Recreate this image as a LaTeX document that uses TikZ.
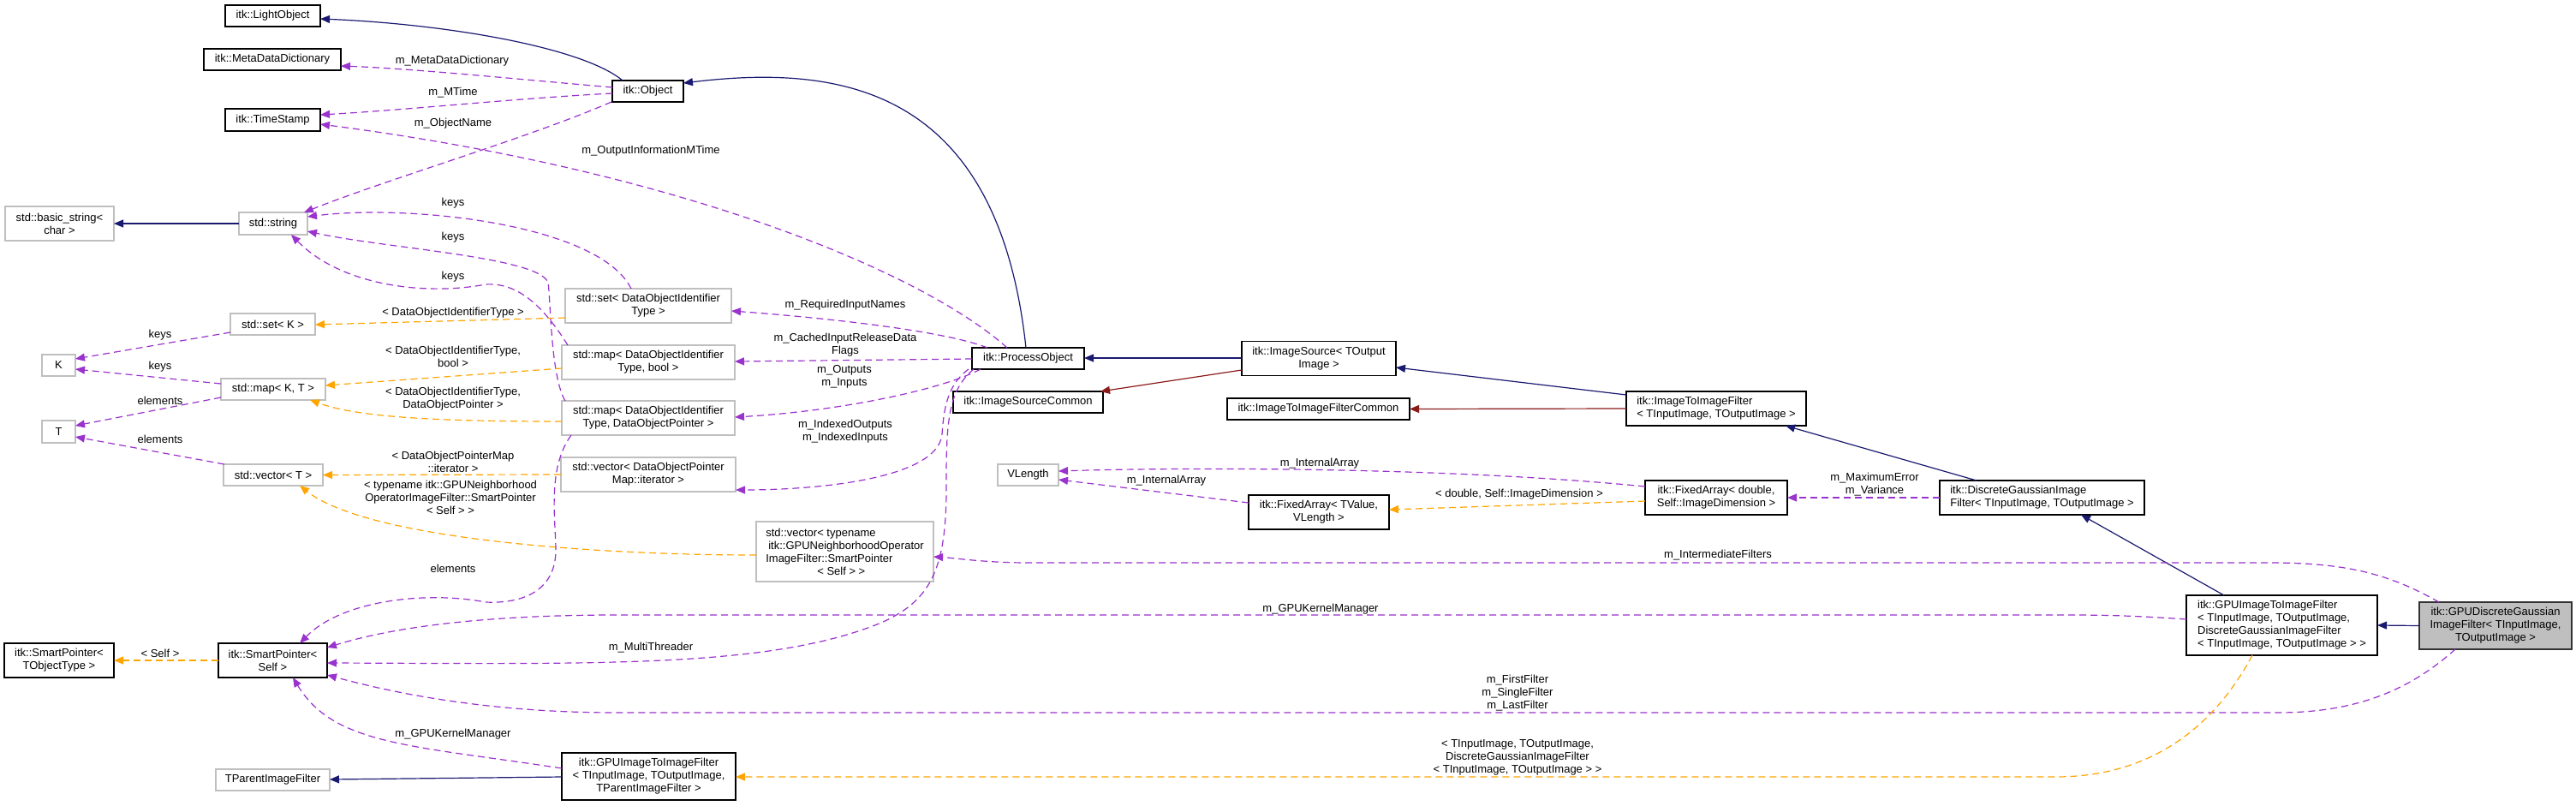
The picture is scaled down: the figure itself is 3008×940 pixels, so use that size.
\documentclass[tikz,border=0pt]{standalone}
\usepackage{fontspec}
\setmainfont{Liberation Sans}
\usetikzlibrary{arrows.meta}
\definecolor{cNavy}{HTML}{191970}
\definecolor{cPurple}{HTML}{9A32CD}
\definecolor{cOrange}{HTML}{FFA500}
\definecolor{cRed}{HTML}{8B1A1A}
\definecolor{cGray}{HTML}{BFBFBF}
\begin{document}
\begin{tikzpicture}[x=1pt,y=-1pt,
  every node/.style={font=\fontsize{13}{15}\selectfont, inner sep=0pt, outer sep=0pt},
  bx/.style={draw=black, line width=1.4pt, fill=white, align=center},
  gbx/.style={draw=cGray, line width=1.4pt, fill=white, align=center},
  fbx/.style={draw=black!80, line width=1.4pt, fill=cGray, align=center},
  lbl/.style={align=center},
  eInh/.style={draw=cNavy, line width=1.2pt, -{Triangle[length=11pt,width=9pt]}},
  eRed/.style={draw=cRed, line width=1.2pt, -{Triangle[length=11pt,width=9pt]}},
  eUse/.style={draw=cPurple, line width=1.2pt, dash pattern=on 8pt off 5pt, -{Triangle[length=11pt,width=9pt]}},
  eTmpl/.style={draw=cOrange, line width=1.2pt, dash pattern=on 8pt off 5pt, -{Triangle[length=11pt,width=9pt]}},
]
\fill[white] (0,0) rectangle (3008,940);
\useasboundingbox (0,0) rectangle (3008,940);

% ---------- nodes ----------
\node[bx, minimum width=111pt, minimum height=25pt] (lo) at (318.5,18.5) {itk::LightObject};
\node[bx, minimum width=160pt, minimum height=25pt] (mdd) at (318,69.5) {itk::MetaDataDictionary};
\node[bx, minimum width=111pt, minimum height=26pt] (ts) at (318.5,140) {itk::TimeStamp};
\node[bx, minimum width=83pt, minimum height=25pt] (obj) at (756.5,106.5) {itk::Object};
\node[gbx, minimum width=127pt, minimum height=40pt] (bstr) at (69.5,261) {std::basic\_string<\\char >};
\node[gbx, minimum width=80pt, minimum height=26pt] (str) at (319,261) {std::string};
\node[gbx, minimum width=99pt, minimum height=25pt] (setk) at (318.5,378.5) {std::set< K >};
\node[gbx, minimum width=39pt, minimum height=25pt] (K) at (68.5,426.5) {K};
\node[gbx, minimum width=122pt, minimum height=25pt] (mapkt) at (319,454.5) {std::map< K, T >};
\node[gbx, minimum width=39pt, minimum height=26pt] (T) at (68.5,504) {T};
\node[gbx, minimum width=116pt, minimum height=25pt] (vect) at (319,554.5) {std::vector< T >};
\node[gbx, minimum width=194pt, minimum height=40pt] (setdoi) at (757,357) {std::set< DataObjectIdentifier\\Type >};
\node[gbx, minimum width=202pt, minimum height=40pt] (mapbool) at (757,423) {std::map< DataObjectIdentifier\\Type, bool >};
\node[gbx, minimum width=202pt, minimum height=40pt] (mapptr) at (757,488) {std::map< DataObjectIdentifier\\Type, DataObjectPointer >};
\node[gbx, minimum width=204pt, minimum height=40pt] (vecit) at (757,554) {std::vector< DataObjectPointer\\Map::iterator >};
\node[gbx, minimum width=207pt, minimum height=70pt, align=left] (vecsp) at (986.5,644) {std::vector< typename\\\hspace*{3pt}itk::GPUNeighborhoodOperator\\ImageFilter::SmartPointer\\\hspace*{60pt}< Self > >};
\node[bx, minimum width=131pt, minimum height=25pt] (po) at (1200.5,418.5) {itk::ProcessObject};
\node[bx, minimum width=175pt, minimum height=25pt] (isc) at (1200.5,469.5) {itk::ImageSourceCommon};
\node[bx, minimum width=180pt, minimum height=40pt] (is) at (1540,418.5) {itk::ImageSource< TOutput\\Image >};
\node[bx, minimum width=213pt, minimum height=25pt] (itifc) at (1539.5,477.5) {itk::ImageToImageFilterCommon};
\node[bx, minimum width=210pt, minimum height=40pt, align=left] (itif) at (2004,477) {itk::ImageToImageFilter\\< TInputImage, TOutputImage >};
\node[gbx, minimum width=71pt, minimum height=25pt] (vl) at (1200.5,554.5) {VLength};
\node[bx, minimum width=164pt, minimum height=40pt] (fatv) at (1540,598) {itk::FixedArray< TValue,\\VLength >};
\node[bx, minimum width=166pt, minimum height=40pt] (fad) at (2004,581) {itk::FixedArray< double,\\Self::ImageDimension >};
\node[bx, minimum width=239pt, minimum height=40pt, align=left] (dg) at (2384.5,581) {itk::DiscreteGaussianImage\\Filter< TInputImage, TOutputImage >};
\node[bx, minimum width=223pt, minimum height=70pt, align=left] (gpum) at (2664.5,730) {itk::GPUImageToImageFilter\\< TInputImage, TOutputImage,\\DiscreteGaussianImageFilter\\< TInputImage, TOutputImage > >};
\node[fbx, minimum width=178pt, minimum height=55pt] (gray) at (2914,730.5) {itk::GPUDiscreteGaussian\\ImageFilter< TInputImage,\\TOutputImage >};
\node[bx, minimum width=128pt, minimum height=40pt] (spt) at (69,771) {itk::SmartPointer<\\TObjectType >};
\node[bx, minimum width=127pt, minimum height=40pt] (sps) at (318.5,771) {itk::SmartPointer<\\Self >};
\node[gbx, minimum width=133pt, minimum height=25pt] (tpif) at (318.5,910.5) {TParentImageFilter};
\node[bx, minimum width=203pt, minimum height=55pt] (gpup) at (757.5,906.5) {itk::GPUImageToImageFilter\\< TInputImage, TOutputImage,\\TParentImageFilter >};

% ---------- edges ----------
\draw[eInh] (727,0 |- obj.north) .. controls (680,55) and (520,28) .. (lo.east |- 0,22);
\draw[eInh] (1198,0 |- po.north) .. controls (1165,100) and (980,75) .. (obj.east |- 0,97);
\draw[eUse] (obj.west |- 0,102) .. controls (600,92) and (480,80) .. (mdd.east |- 0,77);
\draw[eUse] (obj.west |- 0,109) .. controls (600,115) and (480,128) .. (ts.east |- 0,134);
\draw[eUse] (1176,0 |- po.north) .. controls (1080,320) and (800,200) .. (ts.east |- 0,145);
\draw[eUse] (714,0 |- obj.south) .. controls (620,160) and (450,210) .. (355,0 |- str.north);
\draw[eInh] (str.west) -- (bstr.east);

\draw[eUse] (737,0 |- setdoi.north) .. controls (700,262) and (480,238) .. (str.east |- 0,253);
\draw[eUse] (660,0 |- mapptr.north) .. controls (643,440) and (643,350) .. (640,330) .. controls (630,300) and (450,290) .. (str.east |- 0,270);
\draw[eUse] (663,0 |- mapbool.north) .. controls (630,350) and (600,330) .. (567,332) .. controls (500,345) and (400,335) .. (340,0 |- str.south);

\draw[eUse] (setk.west |- 0,388) -- (K.east |- 0,419);
\draw[eUse] (mapkt.west |- 0,448) -- (K.east |- 0,431);
\draw[eUse] (mapkt.west |- 0,464) -- (T.east |- 0,497);
\draw[eUse] (262,0 |- vect.north) -- (T.east |- 0,510);

\draw[eTmpl] (setdoi.west |- 0,371) -- (setk.east |- 0,379);
\draw[eTmpl] (mapbool.west |- 0,430) -- (mapkt.east |- 0,450);
\draw[eTmpl] (mapptr.west |- 0,492) .. controls (520,492) and (420,488) .. (362,0 |- mapkt.south);
\draw[eTmpl] (vecit.west) -- (vect.east);
\draw[eTmpl] (vecsp.west |- 0,648) .. controls (700,648) and (430,630) .. (350,0 |- vect.south);

\draw[eUse] (1153,0 |- po.north) .. controls (1100,385) and (950,370) .. (setdoi.east |- 0,363);
\draw[eUse] (po.west |- 0,419) -- (mapbool.east |- 0,422);
\draw[eUse] (1145,0 |- po.south) .. controls (1100,455) and (980,480) .. (mapptr.east |- 0,487);
\draw[eUse] (1131,0 |- po.south) .. controls (1105,450) and (1102,480) .. (1100,507) .. controls (1095,560) and (950,572) .. (vecit.east |- 0,572);
\draw[eUse] (1137,0 |- po.south) .. controls (1108,455) and (1105,490) .. (1105,560) .. controls (1106,660) and (1090,700) .. (1029,727) .. controls (900,780) and (700,775) .. (sps.east |- 0,774);

\draw[eInh] (is.west |- 0,418) -- (po.east |- 0,418);
\draw[eRed] (is.west |- 0,432) -- (1285,0 |- isc.north);
\draw[eInh] (itif.west |- 0,461) -- (is.east |- 0,429);
\draw[eRed] (itif.west |- 0,477) -- (itifc.east);
\draw[eInh] (2308,0 |- dg.north) -- (2085,0 |- itif.south);
\draw[eUse] (dg.west) -- (fad.east);
\draw[eUse] (fad.west |- 0,568) .. controls (1700,546) and (1400,545) .. (vl.east |- 0,550);
\draw[eUse] (fatv.west |- 0,587) -- (vl.east |- 0,560);
\draw[eTmpl] (fad.west |- 0,585) -- (fatv.east |- 0,595);
\draw[eInh] (2597,0 |- gpum.north) -- (2430,0 |- dg.south);
\draw[eInh] (gray.west) -- (gpum.east);

\draw[eUse] (2848,0 |- gray.north) .. controls (2790,670) and (2740,657) .. (2650,657) -- (1200,657) .. controls (1150,657) and (1110,651) .. (vecsp.east |- 0,650);
\draw[eUse] (gpum.west |- 0,723) .. controls (2480,718) and (2450,718) .. (2400,718) -- (720,718) .. controls (550,718) and (450,735) .. (sps.east |- 0,756);
\draw[eUse] (2867,0 |- gray.south) .. controls (2820,800) and (2760,832) .. (2660,832) -- (720,832) .. controls (580,832) and (470,812) .. (sps.east |- 0,788);
\draw[eTmpl] (2630,0 |- gpum.south) .. controls (2590,840) and (2520,907) .. (2400,907) -- (gpup.east |- 0,907);
\draw[eInh] (gpup.west |- 0,907) -- (tpif.east |- 0,910);
\draw[eUse] (gpup.west |- 0,897) .. controls (480,870) and (390,870) .. (342,0 |- sps.south);
\draw[eTmpl] (sps.west) -- (spt.east);
\draw[eUse] (667,0 |- mapptr.south) .. controls (640,545) and (648,600) .. (649,640) .. controls (650,690) and (610,705) .. (567,703) .. controls (500,690) and (400,700) .. (350,0 |- sps.north);

% ---------- labels ----------
\node[lbl] (l01) at (528,71) {m\_MetaDataDictionary};
\node[lbl] (l02) at (529,108) {m\_MTime};
\node[lbl] (l03) at (529,144) {m\_ObjectName};
\node[lbl] (l04) at (760,176) {m\_OutputInformationMTime};
\node[lbl] (l05) at (529,237) {keys};
\node[lbl] (l06) at (529,277) {keys};
\node[lbl] (l07) at (529,323) {keys};
\node[lbl] (l08) at (529,365) {< DataObjectIdentifierType >};
\node[lbl] (l09) at (187,391) {keys};
\node[lbl] (l10) at (187,428) {keys};
\node[lbl] (l11) at (187,468) {elements};
\node[lbl] (l12) at (187,513) {elements};
\node[lbl] (l13) at (529,416) {< DataObjectIdentifierType,\\bool >};
\node[lbl] (l14) at (529,466) {< DataObjectIdentifierType,\\DataObjectPointer >};
\node[lbl] (l15) at (529,539) {< DataObjectPointerMap\\::iterator >};
\node[lbl] (l16) at (526,581) {< typename itk::GPUNeighborhood\\OperatorImageFilter::SmartPointer\\< Self > >};
\node[lbl] (l17) at (987,356) {m\_RequiredInputNames};
\node[lbl] (l18) at (987,403) {m\_CachedInputReleaseData\\Flags};
\node[lbl] (l19) at (986,440) {m\_Outputs\\m\_Inputs};
\node[lbl] (l20) at (987,504) {m\_IndexedOutputs\\m\_IndexedInputs};
\node[lbl] (l21) at (529,664) {elements};
\node[lbl] (l22) at (187,763) {< Self >};
\node[lbl] (l23) at (760,756) {m\_MultiThreader};
\node[lbl] (l24) at (529,857) {m\_GPUKernelManager};
\node[lbl] (l25) at (1542,711) {m\_GPUKernelManager};
\node[lbl] (l26) at (1772,809) {m\_FirstFilter\\m\_SingleFilter\\m\_LastFilter};
\node[lbl] (l27) at (1772,884) {< TInputImage, TOutputImage,\\DiscreteGaussianImageFilter\\< TInputImage, TOutputImage > >};
\node[lbl] (l28) at (2006,648) {m\_IntermediateFilters};
\node[lbl] (l29) at (2189,566) {m\_MaximumError\\m\_Variance};
\node[lbl] (l30) at (1541,541) {m\_InternalArray};
\node[lbl] (l31) at (1362,561) {m\_InternalArray};
\node[lbl] (l32) at (1774,577) {< double, Self::ImageDimension >};
\end{tikzpicture}
\end{document}
